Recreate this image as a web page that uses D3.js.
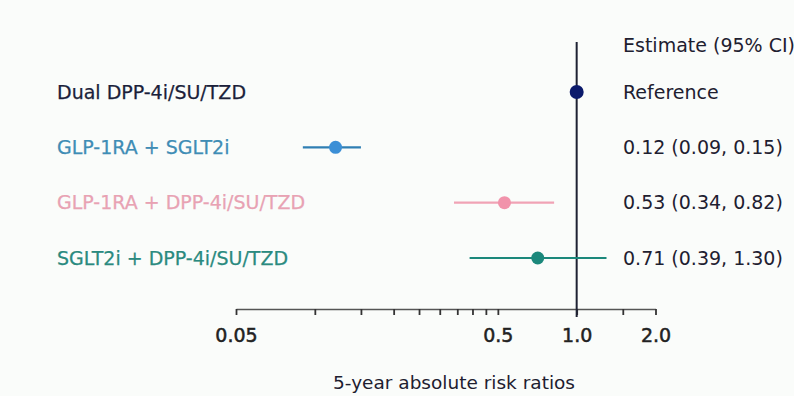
<!DOCTYPE html>
<html>
<head>
<meta charset="utf-8">
<script src="https://cdn.jsdelivr.net/npm/d3@7"></script>
<style>
  body { margin: 0; background: #fafcfa; overflow: hidden; }
  svg { display: block; font-family: "DejaVu Sans", Verdana, sans-serif; }
</style>
</head>
<body>
<div id="chart"></div>
<script>
  // rows, top to bottom
  var groups = ["Dual DPP-4i/SU/TZD", "GLP-1RA + SGLT2i", "GLP-1RA + DPP-4i/SU/TZD", "SGLT2i + DPP-4i/SU/TZD"];
  var estimates = [1.0, 0.12, 0.53, 0.71];
  var lower = [null, 0.09, 0.34, 0.39];
  var upper = [null, 0.15, 0.82, 1.30];
  var ciLabels = ["Reference", "0.12 (0.09, 0.15)", "0.53 (0.34, 0.82)", "0.71 (0.39, 1.30)"];
  var lineColors = ["#0b1a6b", "#2f7fb3", "#f0a3b5", "#1b887b"];
  var dotColors = ["#0b1a6b", "#3b8fd6", "#f193ab", "#1b887b"];
  var textColors = ["#1b1f3a", "#3f8db5", "#e8a2b3", "#2a8a7f"];
  var tickValues = [0.05, 0.1, 0.15, 0.2, 0.25, 0.3, 0.35, 0.4, 0.45, 0.5, 1.0, 1.5, 2.0];
  var labeledTicks = [0.05, 0.5, 1.0, 2.0];

  var width = 794, height = 396;

  var svg = d3.select("#chart")
    .append("svg")
    .attr("width", width)
    .attr("height", height);

  var x = d3.scaleLog()
    .domain([0.05, 2.0])
    .range([236, 655.5]);

  var y = d3.scalePoint()
    .domain(groups)
    .range([92, 258]);

  var axisY = 309;

  // x axis
  var axis = d3.axisBottom(x)
    .tickValues(tickValues)
    .tickSize(6)
    .tickSizeOuter(0)
    .tickFormat(function (d) {
      return labeledTicks.indexOf(d) >= 0 ? d3.format(d < 1 ? ".2~f" : ".1f")(d) : "";
    });

  var gAxis = svg.append("g")
    .attr("transform", "translate(0," + axisY + ")")
    .call(axis);

  gAxis.select(".domain").attr("stroke", "#555").attr("stroke-width", 1.3);
  gAxis.selectAll(".tick line").attr("stroke", "#333").attr("stroke-width", 1.8);
  gAxis.selectAll(".tick text")
    .attr("y", 26)
    .attr("dy", "0.35em")
    .attr("fill", "#222")
    .attr("stroke", "#222")
    .attr("stroke-width", 0.5)
    .style("font-size", "19px")
    .style("font-family", "DejaVu Sans, sans-serif");

  // reference line at 1.0
  svg.append("line")
    .attr("x1", x(1)).attr("x2", x(1))
    .attr("y1", 42).attr("y2", axisY + 8)
    .attr("stroke", "#1e2233")
    .attr("stroke-width", 2);

  // CI lines
  svg.selectAll(".ci")
    .data(groups.filter(function (g, i) { return lower[i] != null; }))
    .enter().append("line")
    .attr("class", "ci")
    .attr("x1", function (g) { return x(lower[groups.indexOf(g)]); })
    .attr("x2", function (g) { return x(upper[groups.indexOf(g)]); })
    .attr("y1", function (g) { return y(g); })
    .attr("y2", function (g) { return y(g); })
    .attr("stroke", function (g) { return lineColors[groups.indexOf(g)]; })
    .attr("stroke-width", 2.2);

  // point estimates
  svg.selectAll(".dot")
    .data(groups)
    .enter().append("circle")
    .attr("class", "dot")
    .attr("cx", function (g, i) { return x(estimates[i]); })
    .attr("cy", function (g) { return y(g); })
    .attr("r", function (g, i) { return i === 0 ? 7 : 6.5; })
    .attr("fill", function (g, i) { return dotColors[i]; });

  // group labels
  svg.selectAll(".label")
    .data(groups)
    .enter().append("text")
    .attr("class", "label")
    .attr("x", 57)
    .attr("y", function (g) { return y(g); })
    .attr("dy", "0.35em")
    .attr("fill", function (g, i) { return textColors[i]; })
    .attr("stroke", function (g, i) { return textColors[i]; })
    .attr("stroke-width", 0.25)
    .style("font-size", "19px")
    .text(function (g) { return g; });

  // estimate column
  svg.append("text")
    .attr("x", 623)
    .attr("y", 45)
    .attr("dy", "0.35em")
    .attr("fill", "#1e2030")
    .style("font-size", "19px")
    .text("Estimate (95% CI)");

  svg.selectAll(".est")
    .data(ciLabels)
    .enter().append("text")
    .attr("class", "est")
    .attr("x", 623)
    .attr("y", function (d, i) { return y(groups[i]); })
    .attr("dy", "0.35em")
    .attr("fill", "#1e2030")
    .style("font-size", "19px")
    .text(function (d) { return d; });

  // axis title
  svg.append("text")
    .attr("x", 454)
    .attr("y", 383)
    .attr("dy", "0.35em")
    .attr("text-anchor", "middle")
    .attr("fill", "#1e2030")
    .style("font-size", "18.5px")
    .text("5-year absolute risk ratios");
</script>
</body>
</html>
